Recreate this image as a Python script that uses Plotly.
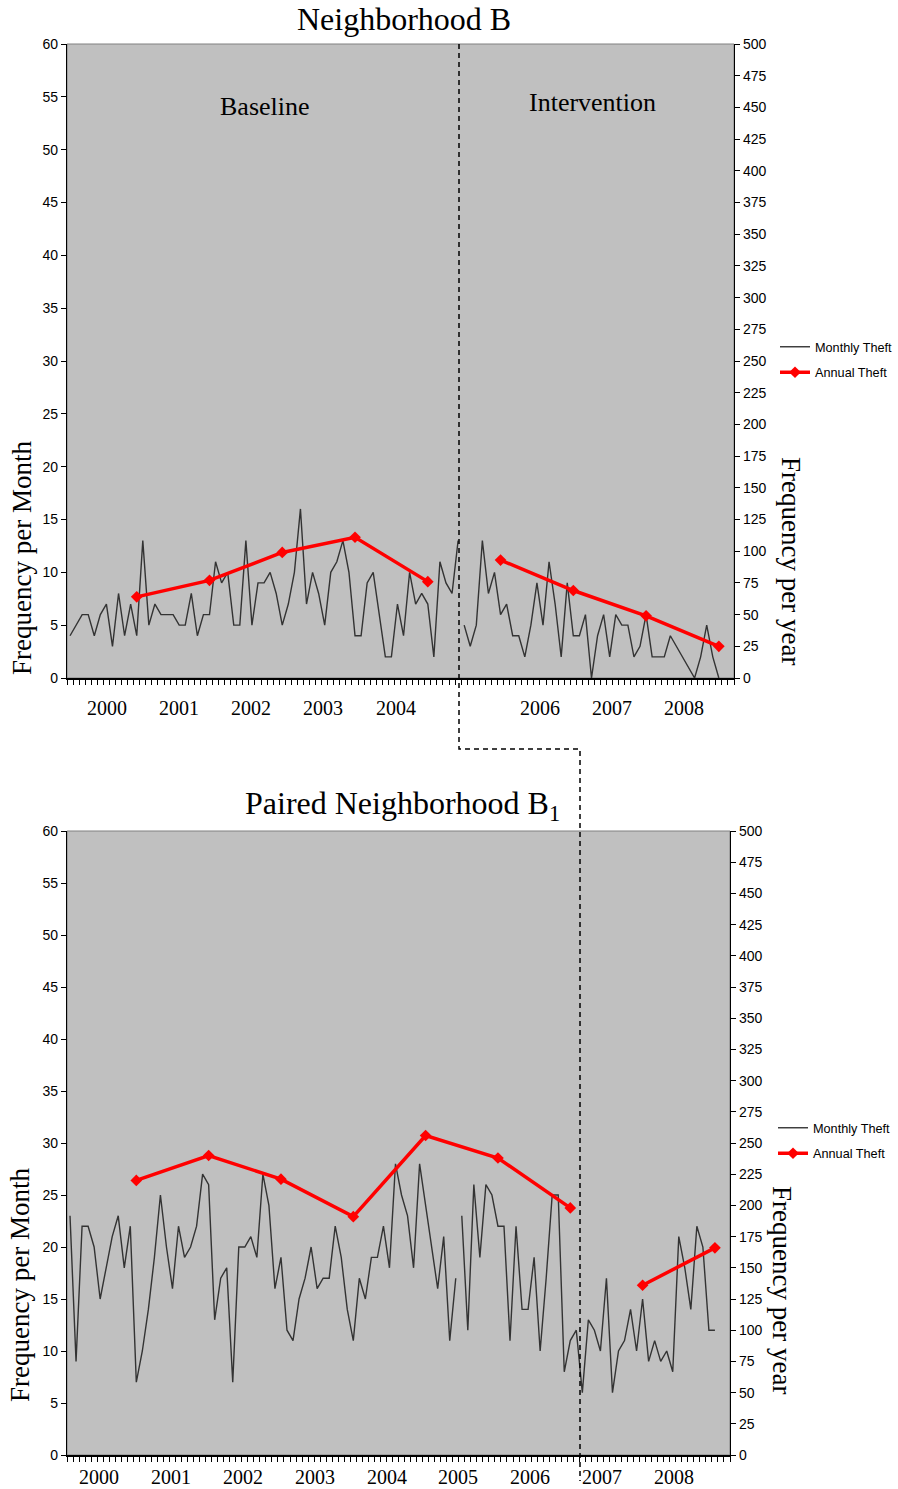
import plotly.graph_objects as go

# ---------------------------------------------------------------- data
# Monthly theft counts, Jan 2000 .. Dec 2008 (108 months)
monthly_b = [
    4, 5, 6, 6, 4, 6, 7, 3, 8, 4, 7, 4,          # 2000
    13, 5, 7, 6, 6, 6, 5, 5, 8, 4, 6, 6,         # 2001
    11, 9, 10, 5, 5, 13, 5, 9, 9, 10, 8, 5,      # 2002
    7, 10, 16, 7, 10, 8, 5, 10, 11, 13, 10, 4,   # 2003
    4, 9, 10, 6, 2, 2, 7, 4, 10, 7, 8, 7,        # 2004
    2, 11, 9, 8, 13, 5, 3, 5, 13, 8, 10, 6,      # 2005
    7, 4, 4, 2, 5, 9, 5, 11, 7, 2, 9, 4,         # 2006
    4, 6, 0, 4, 6, 2, 6, 5, 5, 2, 3, 6,          # 2007
    2, 2, 2, 4, 3, 2, 1, 0, 2, 5, 2, 0,          # 2008
]
monthly_b1 = [
    23, 9, 22, 22, 20, 15, 18, 21, 23, 18, 22, 7,      # 2000
    10, 14, 19, 25, 20, 16, 22, 19, 20, 22, 27, 26,    # 2001
    13, 17, 18, 7, 20, 20, 21, 19, 27, 24, 16, 19,     # 2002
    12, 11, 15, 17, 20, 16, 17, 17, 22, 19, 14, 11,    # 2003
    17, 15, 19, 19, 22, 18, 28, 25, 23, 18, 28, 24,    # 2004
    20, 16, 21, 11, 17, 23, 12, 26, 19, 26, 25, 22,    # 2005
    22, 11, 22, 14, 14, 19, 10, 17, 25, 25, 8, 11,     # 2006
    12, 6, 13, 12, 10, 17, 6, 10, 11, 14, 10, 15,      # 2007
    9, 11, 9, 10, 8, 21, 18, 14, 22, 20, 12, 12,       # 2008
]
# months in the baseline period (Jan 2000 .. May 2005)
baseline_months = 65

# Annual theft totals (plotted at December of each year)
years = [2000, 2001, 2002, 2003, 2004, 2005, 2006, 2007, 2008]
annual_b_baseline = [64, 77, 99, 111, 76]          # 2000-2004
annual_b_intervention = [93, 69, 49, 25]           # 2005-2008
annual_b1_first = [220, 240, 221, 191, 256, 238, 198]   # 2000-2006
annual_b1_second = [136, 166]                           # 2007-2008

year_labels_b = ["2000", "2001", "2002", "2003", "2004", "", "2006", "2007", "2008"]
year_labels_b1 = ["2000", "2001", "2002", "2003", "2004", "2005", "2006", "2007", "2008"]

left_ticks = list(range(0, 61, 5))
right_ticks = list(range(0, 501, 25))

# ---------------------------------------------------------------- helpers
W, H = 898, 1489
SERIF = "Liberation Serif, Times New Roman, serif"
SANS = "Liberation Sans, Arial, sans-serif"
BG = "#C0C0C0"
N_CAT = 110                     # category slots on the month axis


def px(x):
    return x / W


def py(y):
    return 1 - y / H


def split_series(values, brk):
    """x/y lists with a None separator so the line breaks at `brk`."""
    xs = list(range(brk)) + [None] + list(range(brk, len(values)))
    ys = values[:brk] + [None] + values[brk:]
    return xs, ys


def dec_index(year):
    return (year - years[0]) * 12 + 11


def annual_series(first, second, first_years, second_years):
    xs = [dec_index(y) for y in first_years] + [None] + [dec_index(y) for y in second_years]
    ys = first + [None] + second
    return xs, ys


fig = go.Figure()

# ---------------------------------------------------------------- top panel
mx, my = split_series(monthly_b, baseline_months)
fig.add_trace(go.Scatter(
    x=mx, y=my, mode="lines", name="Monthly Theft",
    line=dict(color="#333333", width=1.4), connectgaps=False,
    xaxis="x", yaxis="y", legend="legend", legendgroup="m1",
))
ax, ay = annual_series(annual_b_baseline, annual_b_intervention, years[:5], years[5:])
fig.add_trace(go.Scatter(
    x=ax, y=ay, mode="lines+markers", name="Annual Theft",
    line=dict(color="#FF0000", width=3.5), marker=dict(symbol="diamond", size=9, color="#FF0000"),
    connectgaps=False, xaxis="x", yaxis="y2", legend="legend", legendgroup="a1",
))

# ---------------------------------------------------------------- bottom panel
mx2, my2 = split_series(monthly_b1, baseline_months)
fig.add_trace(go.Scatter(
    x=mx2, y=my2, mode="lines", name="Monthly Theft",
    line=dict(color="#333333", width=1.4), connectgaps=False,
    xaxis="x2", yaxis="y3", legend="legend2", legendgroup="m2",
))
ax2, ay2 = annual_series(annual_b1_first, annual_b1_second, years[:7], years[7:])
fig.add_trace(go.Scatter(
    x=ax2, y=ay2, mode="lines+markers", name="Annual Theft",
    line=dict(color="#FF0000", width=3.5), marker=dict(symbol="diamond", size=9, color="#FF0000"),
    connectgaps=False, xaxis="x2", yaxis="y4", legend="legend2", legendgroup="a2",
))

# ---------------------------------------------------------------- axes
top_x_dom = [px(67), px(734)]
top_y_dom = [py(678), py(44)]
bot_x_dom = [px(67), px(730)]
bot_y_dom = [py(1455), py(831)]

xcommon = dict(
    range=[-0.5, N_CAT - 0.5], tickmode="linear", tick0=-0.5, dtick=1,
    ticks="outside", ticklen=5, tickwidth=1, tickcolor="black",
    showticklabels=False, showgrid=False, zeroline=False, automargin=False,
    showline=True, linecolor="black", linewidth=1.5,
)
yleft = dict(
    range=[0, 60], tickmode="array", tickvals=left_ticks,
    ticks="outside", ticklen=5, tickwidth=1.2, tickcolor="black",
    tickfont=dict(family=SANS, size=14, color="black"), automargin=False,
    showgrid=False, zeroline=False, showline=True, linecolor="black", linewidth=1.2,
)
yright = dict(
    range=[0, 500], tickmode="array", tickvals=right_ticks, side="right",
    ticks="outside", ticklen=5, tickwidth=1.2, tickcolor="black",
    tickfont=dict(family=SANS, size=14, color="black"), automargin=False,
    showgrid=False, zeroline=False, showline=True, linecolor="black", linewidth=1.2,
)

fig.update_layout(
    xaxis=dict(domain=top_x_dom, anchor="y", **xcommon),
    yaxis=dict(domain=top_y_dom, anchor="x", **yleft),
    yaxis2=dict(overlaying="y", anchor="x", **yright),
    xaxis2=dict(domain=bot_x_dom, anchor="y3", **xcommon),
    yaxis3=dict(domain=bot_y_dom, anchor="x2", **yleft),
    yaxis4=dict(overlaying="y3", anchor="x2", **yright),
)

# ---------------------------------------------------------------- plot-area backgrounds / borders
shapes = []
for xd, yd in ((top_x_dom, top_y_dom), (bot_x_dom, bot_y_dom)):
    shapes.append(dict(type="rect", xref="paper", yref="paper",
                       x0=xd[0], x1=xd[1], y0=yd[0], y1=yd[1],
                       fillcolor=BG, line=dict(color="#808080", width=1), layer="below"))

# dashed divider linking the intervention start in both panels
path = "M {:.5f},{:.5f} L {:.5f},{:.5f} L {:.5f},{:.5f} L {:.5f},{:.5f}".format(
    px(459), py(44), px(459), py(749), px(580), py(749), px(580), py(1481))
shapes.append(dict(type="path", xref="paper", yref="paper", path=path,
                   line=dict(color="black", width=1.5, dash="5px,4px"), layer="above"))

# ---------------------------------------------------------------- text
ann = []


def label(text, x, y, size, angle=0, family=SERIF, xref="paper"):
    ann.append(dict(text=text, x=x, y=y, xref=xref, yref="paper", showarrow=False,
                    textangle=angle, xanchor="center", yanchor="middle",
                    font=dict(family=family, size=size, color="black")))


label("Neighborhood B", px(404), py(19), 32)
label("Paired Neighborhood B<sub>1</sub>", px(402), py(805), 32)
label("Baseline", px(265), py(107), 26)
label("Intervention", px(592), py(103), 26)

label("Frequency per Month", px(22), py(558), 27, -90)
label("Frequency per year", px(791), py(561), 27, 90)
label("Frequency per Month", px(20), py(1285), 27, -90)
label("Frequency per year", px(782), py(1290), 27, 90)

# year labels under the month axes
for k, lab in enumerate(year_labels_b):
    if lab:
        label(lab, 6.1 + 11.9 * k, py(708), 20, xref="x")
for k, lab in enumerate(year_labels_b1):
    label(lab, 4.8 + 11.93 * k, py(1477), 20, xref="x2")

legend_style = dict(font=dict(family=SANS, size=12.7, color="black"), bgcolor="rgba(0,0,0,0)",
                    traceorder="grouped", tracegroupgap=6, xanchor="left", yanchor="top",
                    itemclick=False)

fig.update_layout(
    template="none",
    width=W, height=H,
    margin=dict(l=0, r=0, t=0, b=0, autoexpand=False),
    paper_bgcolor="white",
    plot_bgcolor=BG,
    shapes=shapes,
    annotations=ann,
    legend=dict(x=px(775), y=py(332), **legend_style),
    legend2=dict(x=px(773), y=py(1113), **legend_style),
    showlegend=True,
)

fig.write_html("out.html")
